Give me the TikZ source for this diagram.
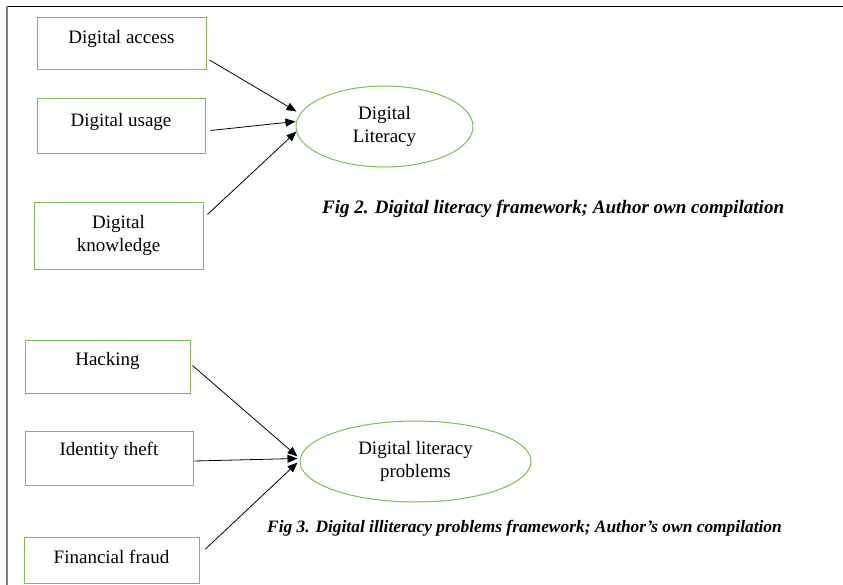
\documentclass[tikz,border=0pt]{standalone}
\usepackage{fontspec}
\setmainfont{Liberation Serif}
\usetikzlibrary{shapes.geometric,arrows.meta,calc}
\definecolor{boxgreen}{HTML}{7DBB55}
\definecolor{framegrey}{HTML}{808080}
\tikzset{
  box/.style={draw=boxgreen, line width=1pt, rectangle, inner sep=0pt},
  oval/.style={draw=boxgreen, line width=1pt, ellipse, inner sep=0pt,
               align=center, font=\fontsize{19}{23}\selectfont},
  txt/.style={inner sep=0pt, align=center, font=\fontsize{19}{23}\selectfont},
  caption/.style={inner sep=0pt, anchor=west, font=\bfseries\itshape},
  link/.style={draw=black, line width=0.8pt, -{Triangle[length=10pt,width=8pt]}}
}
\begin{document}
\begin{tikzpicture}[x=1pt,y=-1pt]
\useasboundingbox (0,0) rectangle (843,585);
% frame
\draw[black, line width=1pt] (7,7) -- (843,7);
\draw[framegrey, line width=2pt] (7,6) -- (7,585);

% upper framework
\node[box, minimum width=169pt, minimum height=52pt] (acc) at (121.5,44) {};
\node[txt] at (121.5,39) {Digital access};
\node[box, minimum width=168pt, minimum height=55pt] (use) at (121,126.5) {};
\node[txt] at (121,121.5) {Digital usage};
\node[box, minimum width=169pt, minimum height=67pt] (know) at (118.5,236.5) {};
\node[txt] at (118.5,235) {Digital\\knowledge};
\node[oval, minimum width=177pt, minimum height=81pt] (dl) at (384.5,126.5) {Digital\\Literacy};

\draw[link] ($(acc.east)+(3,16)$) -- ($(dl.west)+(1,-15)$);
\draw[link] ($(use.east)+(5,4)$) -- ($(dl.west)+(0,-5)$);
\draw[link] ($(know.east)+(4,-22)$) -- ($(dl.west)+(1,5)$);

\node[caption, font=\fontsize{19}{22}\selectfont\bfseries\itshape] (cap2) at (322,209)
  {Fig 2. Digital literacy framework; Author own compilation};

% lower framework
\node[box, minimum width=165pt, minimum height=53pt] (hack) at (107.5,366.5) {};
\node[txt] at (107.5,360.5) {Hacking};
\node[box, minimum width=168pt, minimum height=54pt] (idt) at (109,458) {};
\node[txt] at (109,450.5) {Identity theft};
\node[box, minimum width=175pt, minimum height=46pt] (fin) at (111.5,560) {};
\node[txt] at (111.5,556.5) {Financial fraud};
\node[oval, minimum width=231pt, minimum height=81pt] (dlp) at (415.5,461.5) {Digital literacy\\problems};

\draw[link] ($(hack.east)+(2,-1)$) -- ($(dlp.west)+(-2,-5)$);
\draw[link] ($(idt.east)+(1,3)$) -- ($(dlp.west)+(-2,-3)$);
\draw[link] ($(fin.east)+(6,-11)$) -- ($(dlp.west)+(-2,1)$);

\node[caption, font=\fontsize{17.4}{21}\selectfont\bfseries\itshape] (cap3) at (267,528)
  {Fig 3. Digital illiteracy problems framework; Author’s own compilation};
\end{tikzpicture}
\end{document}
